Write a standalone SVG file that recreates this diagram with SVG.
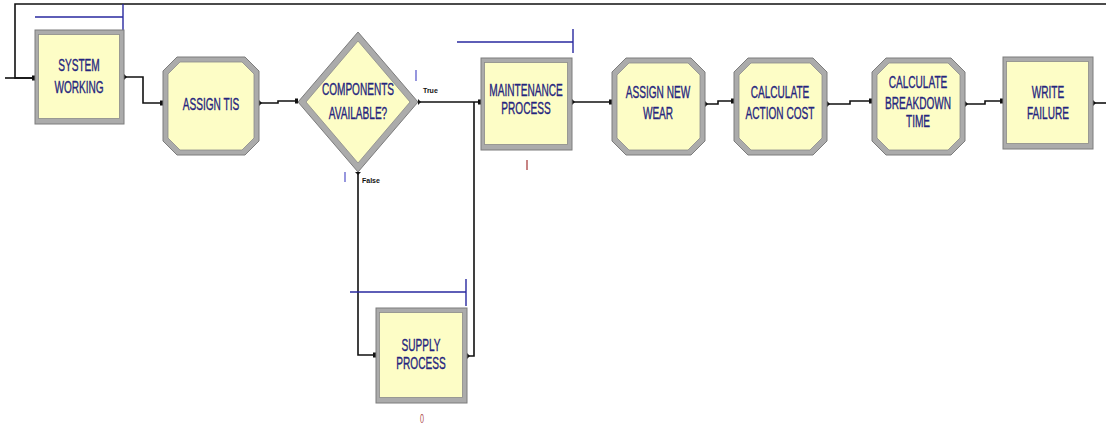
<svg xmlns="http://www.w3.org/2000/svg" width="1106" height="425" viewBox="0 0 1106 425">
<style>
.outer{fill:#ababab;stroke:#7c7c7c;stroke-width:1}
.inner{fill:#fdfdc6;stroke:#8a8a8a;stroke-width:0.8}
.lbl{font-family:"Liberation Sans",Arial,sans-serif;font-size:16px;fill:#25257e;stroke:#25257e;stroke-width:0.35;text-anchor:middle}
.small{font-family:"Liberation Sans",Arial,sans-serif;font-size:7px;font-weight:bold;fill:#111}
.conn{fill:none;stroke:#111;stroke-width:1.6}
.res{fill:none;stroke:#2a2aa0;stroke-width:1.4}
</style>
<defs>
<marker id="in" markerUnits="userSpaceOnUse" markerWidth="6" markerHeight="8" refX="3" refY="3" orient="auto">
<rect x="0" y="0.5" width="3" height="5" fill="#111"/>
</marker>
<marker id="out" markerUnits="userSpaceOnUse" markerWidth="6" markerHeight="8" refX="0" refY="3" orient="auto">
<path d="M0,0 L3,3 L0,6 Z" fill="#111"/>
</marker>
</defs>
<rect width="1106" height="425" fill="#ffffff"/>

<g id="connectors">
<path class="conn" d="M5,78 H35"/>
<path class="conn" d="M1106,4 H15 V78 H35" marker-end="url(#in)"/>
<path class="conn" d="M124,77 H143 V103 H163" marker-start="url(#out)" marker-end="url(#in)"/>
<path class="conn" d="M259,103 H278 V101 H298" marker-start="url(#out)" marker-end="url(#in)"/>
<path class="conn" d="M418,102 H481" marker-start="url(#out)" marker-end="url(#in)"/>
<path class="conn" d="M358,172 V355 H376" marker-start="url(#out)" marker-end="url(#in)"/>
<path class="conn" d="M467,356 H474 V102" marker-start="url(#out)"/>
<path class="conn" d="M572,102 H612" marker-start="url(#out)" marker-end="url(#in)"/>
<path class="conn" d="M705,104 H718 V101 H734" marker-start="url(#out)" marker-end="url(#in)"/>
<path class="conn" d="M827,104 H850 V101 H872" marker-start="url(#out)" marker-end="url(#in)"/>
<path class="conn" d="M965,104 H985 V101 H1003" marker-start="url(#out)" marker-end="url(#in)"/>
<path class="conn" d="M1093,103 H1106" marker-start="url(#out)"/>
</g>

<g id="resources">
<path class="res" d="M35,17 H123 M123,4 V30"/>
<path class="res" d="M457,42 H573 M573,29 V53"/>
<path class="res" d="M350,292 H466 M466,279 V306"/>
<path d="M416,70 V81" stroke="#6a6ad0" stroke-width="1.4"/>
<path d="M345,172 V182" stroke="#6a6ad0" stroke-width="1.4"/>
<path d="M527,160 V170" stroke="#b05050" stroke-width="1.4"/>
</g>

<g id="system-working">
<rect class="outer" x="35" y="30" width="89" height="94"/>
<rect class="inner" x="38.5" y="34.5" width="81" height="84"/>
<text class="lbl" transform="translate(79,71) scale(0.63,1)"><tspan x="0">SYSTEM</tspan><tspan x="0" dy="22">WORKING</tspan></text>
</g>

<g id="assign-tis">
<path class="outer" d="M177,57 H245 L259,71 V141 L245,155 H177 L163,141 V71 Z"/>
<path class="inner" d="M180,62 H242 L254,74 V138 L242,150 H180 L168,138 V74 Z"/>
<text class="lbl" transform="translate(211,110) scale(0.63,1)"><tspan x="0">ASSIGN TIS</tspan></text>
</g>

<g id="components-available">
<path class="outer" d="M298,102 L358,32 L418,102 L358,172 Z"/>
<path class="inner" d="M306,102 L358,41 L410,102 L358,163 Z"/>
<text class="lbl" transform="translate(358,95) scale(0.63,1)"><tspan x="0">COMPONENTS</tspan><tspan x="0" dy="24">AVAILABLE?</tspan></text>
<text class="small" x="423" y="93">True</text>
<text class="small" x="362" y="183">False</text>
</g>

<g id="maintenance-process">
<rect class="outer" x="481" y="58" width="91" height="92"/>
<rect class="inner" x="484.5" y="62.5" width="83" height="82"/>
<text class="lbl" transform="translate(526,96) scale(0.63,1)"><tspan x="0">MAINTENANCE</tspan><tspan x="0" dy="18">PROCESS</tspan></text>
</g>

<g id="supply-process">
<rect class="outer" x="376" y="308" width="91" height="95"/>
<rect class="inner" x="379.5" y="312.5" width="83" height="85"/>
<text class="lbl" transform="translate(421,351) scale(0.63,1)"><tspan x="0">SUPPLY</tspan><tspan x="0" dy="18">PROCESS</tspan></text>
<text transform="translate(422,423) scale(0.55,1)" font-family="Liberation Sans,Arial,sans-serif" font-size="13" fill="#b05050" text-anchor="middle">0</text>
</g>

<g id="assign-new-wear">
<path class="outer" d="M626,58 H691 L705,72 V141 L691,155 H626 L612,141 V72 Z"/>
<path class="inner" d="M629,63 H688 L700,75 V138 L688,150 H629 L617,138 V75 Z"/>
<text class="lbl" transform="translate(658,98) scale(0.63,1)"><tspan x="0">ASSIGN NEW</tspan><tspan x="0" dy="21">WEAR</tspan></text>
</g>

<g id="calculate-action-cost">
<path class="outer" d="M748,58 H813 L827,72 V141 L813,155 H748 L734,141 V72 Z"/>
<path class="inner" d="M751,63 H810 L822,75 V138 L810,150 H751 L739,138 V75 Z"/>
<text class="lbl" transform="translate(780,98) scale(0.63,1)"><tspan x="0">CALCULATE</tspan><tspan x="0" dy="21">ACTION COST</tspan></text>
</g>

<g id="calculate-breakdown-time">
<path class="outer" d="M886,58 H951 L965,72 V141 L951,155 H886 L872,141 V72 Z"/>
<path class="inner" d="M889,63 H948 L960,75 V138 L948,150 H889 L877,138 V75 Z"/>
<text class="lbl" transform="translate(918,88) scale(0.63,1)"><tspan x="0">CALCULATE</tspan><tspan x="0" dy="21">BREAKDOWN</tspan><tspan x="0" dy="18">TIME</tspan></text>
</g>

<g id="write-failure">
<rect class="outer" x="1003" y="57" width="90" height="92"/>
<rect class="inner" x="1006.5" y="61.5" width="82" height="82"/>
<text class="lbl" transform="translate(1048,98) scale(0.63,1)"><tspan x="0">WRITE</tspan><tspan x="0" dy="21">FAILURE</tspan></text>
</g>
</svg>
